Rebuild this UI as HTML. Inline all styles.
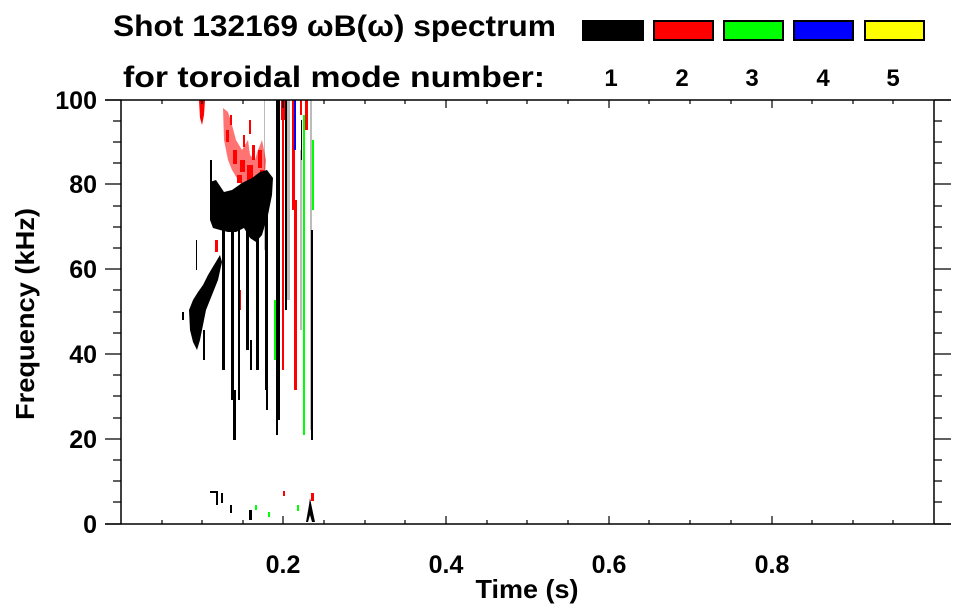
<!DOCTYPE html>
<html><head><meta charset="utf-8"><style>
html,body{margin:0;padding:0;background:#fff;}
svg{display:block;font-family:"Liberation Sans",sans-serif;font-weight:bold;}
</style></head><body>
<svg width="963" height="615" viewBox="0 0 963 615" xmlns="http://www.w3.org/2000/svg">
<rect width="963" height="615" fill="#fff"/>
<text x="113" y="36" font-size="30" textLength="443" lengthAdjust="spacingAndGlyphs">Shot 132169 ωB(ω) spectrum</text>
<text x="123" y="87" font-size="30" textLength="422" lengthAdjust="spacingAndGlyphs">for toroidal mode number:</text>
<g stroke="#000" stroke-width="2">
<rect x="583" y="21" width="60" height="19" fill="#000"/>
<rect x="654" y="21" width="59" height="19" fill="#f00"/>
<rect x="724" y="21" width="59" height="19" fill="#0f0"/>
<rect x="794" y="21" width="59" height="19" fill="#00f"/>
<rect x="865" y="21" width="59" height="19" fill="#ff0"/>
</g>
<g font-size="24" text-anchor="middle">
<text x="611" y="86">1</text><text x="682" y="86">2</text><text x="752" y="86">3</text><text x="823" y="86">4</text><text x="893" y="86">5</text>
</g>

<g>
<g fill="#bbb">
<rect x="287" y="100" width="3" height="200"/>
<rect x="310" y="100" width="2" height="330"/>
<rect x="264" y="100" width="1" height="150"/>
<rect x="300" y="150" width="2" height="180"/>
</g>
<g fill="#f00">
<path d="M199,100 L205,100 L204,115 L202,125 L200,118 Z"/>
<path d="M223,108 L228,112 L232,125 L236,140 L242,150 L248,140 L250,155 L255,160 L258,150 L262,140 L266,160 L265,175 L258,182 L250,190 L244,188 L238,180 L232,170 L228,160 L224,140 Z" opacity="0.55"/>
<rect x="226" y="130" width="3" height="12"/><rect x="233" y="150" width="4" height="14"/><rect x="240" y="160" width="5" height="12"/>
<rect x="247" y="165" width="6" height="20"/><rect x="252" y="145" width="3" height="15"/><rect x="258" y="150" width="4" height="18"/>
<rect x="243" y="135" width="2" height="12"/><rect x="230" y="115" width="2" height="10"/><rect x="249" y="120" width="2" height="14"/>
<rect x="237" y="175" width="5" height="8"/><rect x="260" y="170" width="4" height="12"/><rect x="215" y="240" width="3" height="12"/>
<rect x="281" y="100" width="5" height="20"/><rect x="282" y="120" width="2" height="250"/>
<rect x="294" y="200" width="3" height="190"/><rect x="292" y="100" width="3" height="110"/>
<rect x="305" y="100" width="3" height="30"/><rect x="300" y="100" width="2" height="15"/>
<rect x="265" y="230" width="2" height="25"/><rect x="239" y="290" width="2" height="20"/>
<rect x="311" y="493" width="3" height="8"/><rect x="283" y="491" width="2" height="5"/>
</g>
<g fill="#0f0">
<rect x="303" y="115" width="2" height="320"/><rect x="312" y="140" width="2" height="70"/>
<rect x="274" y="300" width="2" height="60"/><rect x="255" y="505" width="2" height="5"/><rect x="268" y="512" width="2" height="5"/><rect x="297" y="505" width="2" height="6"/>
</g>
<g fill="#00f"><rect x="294" y="100" width="2" height="50"/></g>
<g fill="#000">
<path d="M189,310 L193,300 L198,292 L203,285 L208,275 L214,265 L220,255 L222,262 L218,280 L212,295 L206,310 L203,325 L200,340 L197,350 L193,342 L190,330 Z"/>
<path d="M210,182 L216,180 L224,192 L232,190 L242,183 L252,178 L260,172 L267,170 L273,178 L272,195 L268,215 L262,235 L256,242 L250,238 L244,228 L236,232 L228,232 L220,230 L213,228 L210,220 Z"/>
<rect x="210" y="160" width="2" height="30"/>
<rect x="222" y="200" width="3" height="170"/>
<rect x="231" y="200" width="3" height="200"/><rect x="233" y="390" width="3" height="50"/>
<rect x="238" y="220" width="2" height="180"/>
<rect x="246" y="220" width="3" height="130"/>
<rect x="256" y="220" width="3" height="150"/>
<rect x="265" y="200" width="3" height="190"/>
<rect x="276" y="100" width="4" height="320"/>
<rect x="285" y="100" width="2" height="210"/>
<rect x="311" y="230" width="2" height="210"/>
<rect x="301" y="120" width="1" height="40"/>
<rect x="196" y="240" width="1" height="30"/>
<rect x="203" y="330" width="2" height="30"/>
<rect x="250" y="340" width="2" height="30"/>
<rect x="182" y="312" width="2" height="8"/>
<rect x="266" y="390" width="2" height="20"/>
<rect x="276" y="420" width="2" height="15"/>
<rect x="210" y="491" width="8" height="2"/><rect x="216" y="493" width="2" height="12"/><rect x="221" y="493" width="2" height="10"/>
<rect x="230" y="505" width="2" height="8"/><rect x="249" y="510" width="3" height="10"/>
<path d="M306,522 L309,505 L310,498 L312,508 L315,522 L312,522 L310,515 L308,522 Z"/>
</g>
</g>

<g stroke="#000" stroke-width="1.5" fill="none">
<line x1="105" y1="100" x2="951" y2="100"/>
<line x1="105" y1="524" x2="951" y2="524"/>
<line x1="121" y1="100" x2="121" y2="524"/>
<line x1="934" y1="100" x2="934" y2="524"/>
</g>
<g stroke="#000" stroke-width="1.2">
<path d="M105,100H121M113,121H121M113,142H121M113,163H121M105,184H121M113,206H121M113,227H121M113,248H121M105,269H121M113,290H121M113,312H121M113,333H121M105,354H121M113,375H121M113,396H121M113,418H121M105,439H121M113,460H121M113,481H121M113,502H121M105,524H121"/>
<path d="M934,100H951M934,121H942M934,142H942M934,163H942M934,184H951M934,206H942M934,227H942M934,248H942M934,269H951M934,290H942M934,312H942M934,333H942M934,354H951M934,375H942M934,396H942M934,418H942M934,439H951M934,460H942M934,481H942M934,502H942M934,524H951"/>
<path d="M162,524V520M202,524V520M243,524V520M283,524V516M324,524V520M365,524V520M405,524V520M446,524V516M487,524V520M527,524V520M568,524V520M609,524V516M649,524V520M690,524V520M731,524V520M772,524V516M812,524V520M853,524V520M893,524V520"/>
<path d="M162,100V104M202,100V104M243,100V104M283,100V108M324,100V104M365,100V104M405,100V104M446,100V108M487,100V104M527,100V104M568,100V104M609,100V108M649,100V104M690,100V104M731,100V104M772,100V108M812,100V104M853,100V104M893,100V104"/>
</g>
<g font-size="25" text-anchor="end">
<text x="97" y="109">100</text><text x="97" y="193">80</text><text x="97" y="278">60</text><text x="97" y="363">40</text><text x="97" y="448">20</text><text x="97" y="533">0</text>
</g>
<g font-size="25" text-anchor="middle">
<text x="283" y="573">0.2</text><text x="446" y="573">0.4</text><text x="609" y="573">0.6</text><text x="772" y="573">0.8</text>
<text x="527" y="598" font-size="26" textLength="103" lengthAdjust="spacingAndGlyphs">Time (s)</text>
<text transform="translate(34,314) rotate(-90)" font-size="26" textLength="212" lengthAdjust="spacingAndGlyphs">Frequency (kHz)</text>
</g>
</svg>
</body></html>
